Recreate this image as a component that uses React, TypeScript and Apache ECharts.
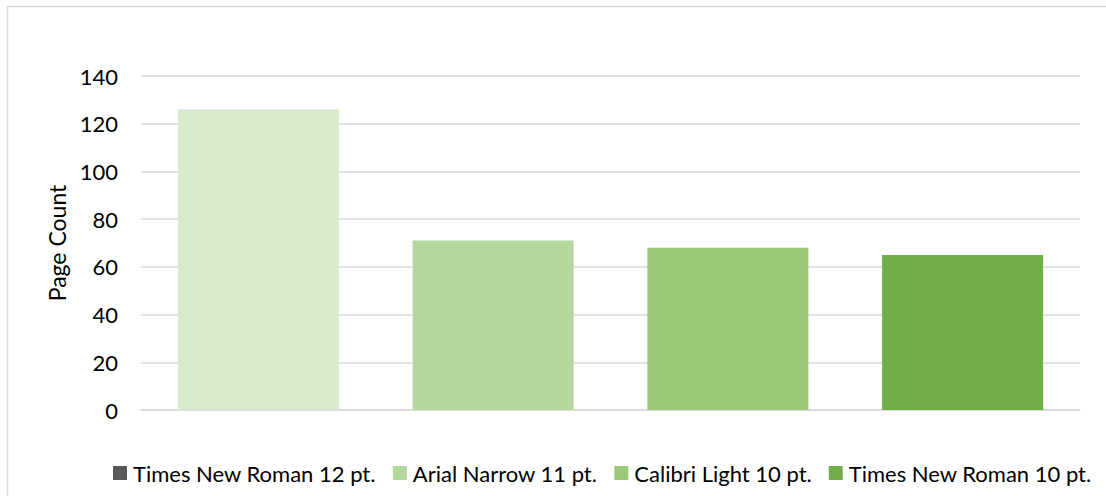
import React, { useEffect, useRef } from "react";
import * as echarts from "echarts";

const seriesNames = [
  "Times New Roman 12 pt.",
  "Arial Narrow 11 pt.",
  "Calibri Light 10 pt.",
  "Times New Roman 10 pt.",
];
const pageCounts = [126, 71, 68, 65];
const barColors = ["#d8e9cd", "#b4d79d", "#9aca78", "#71ad48"];
const legendColors = ["#595959", "#b4d79d", "#9aca78", "#71ad48"];
const yTicks = [0, 20, 40, 60, 80, 100, 120, 140];

export default function App() {
  const ref = useRef<HTMLDivElement>(null);
  useEffect(() => {
    if (!ref.current) return;
    const chart = echarts.init(ref.current, undefined, { renderer: "svg" });
    const font = "Lato, 'Noto Sans', sans-serif";
    chart.setOption({
      animation: false,
      backgroundColor: "#ffffff",
      textStyle: { fontFamily: font },
      graphic: [
        {
          type: "rect",
          shape: { x: 7.5, y: 6.5, width: 1110, height: 500 },
          style: { fill: "none", stroke: "#d9d9d9", lineWidth: 1.5 },
          silent: true,
        },
      ],
      grid: { left: 141, right: 26, top: 76, bottom: 86 },
      legend: {
        bottom: 7,
        left: 108,
        itemWidth: 14,
        itemHeight: 14,
        itemGap: 17,
        icon: "rect",
        textStyle: { fontFamily: font, fontSize: 22, color: "#000000", padding: [0, 0, 0, 1] },
        data: seriesNames.map((n, i) => ({
          name: n,
          itemStyle: { color: legendColors[i] },
        })),
      },
      xAxis: {
        type: "category",
        data: seriesNames,
        axisLabel: { show: false },
        axisTick: { show: false },
        axisLine: { show: true, lineStyle: { color: "#d9d9d9", width: 1.5 } },
      },
      yAxis: {
        type: "value",
        min: yTicks[0],
        max: yTicks[yTicks.length - 1],
        interval: 20,
        name: "Page Count",
        nameLocation: "middle",
        nameGap: 65,
        nameTextStyle: { fontFamily: font, fontSize: 23, color: "#000000" },
        axisLabel: { fontFamily: font, fontSize: 22, color: "#000000", margin: 23 },
        axisLine: { show: false },
        axisTick: { show: false },
        splitLine: { lineStyle: { color: "#d9d9d9", width: 1.5 } },
      },
      series: seriesNames.map((n, i) => ({
        name: n,
        type: "bar",
        stack: "all",
        barWidth: "68.6%",
        itemStyle: { color: barColors[i] },
        data: pageCounts.map((v, j) => (j === i ? v : null)),
      })),
    });
    return () => chart.dispose();
  }, []);
  return (
    <div
      ref={ref}
      style={{ position: "absolute", left: 0, top: 0, width: 1106, height: 496 }}
    />
  );
}
